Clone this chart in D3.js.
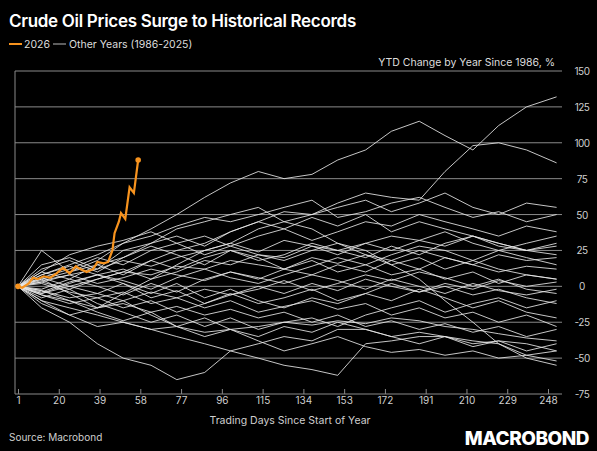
<!DOCTYPE html>
<html><head><meta charset="utf-8">
<script src="https://cdn.jsdelivr.net/npm/d3@7"></script>
<style>body{margin:0;background:#000;font-family:Inter,"Noto Sans",sans-serif;}</style>
</head><body>
<script>
// sample days for historical years
const days = [1,12,25,38,50,63,75,88,100,113,125,138,150,163,175,188,200,213,225,238,252];
const otherYears = [
  [0,8,15,22,30,40,50,62,72,80,75,78,88,95,108,115,105,95,112,125,132],
  [0,-5,0,5,10,18,25,30,38,45,52,50,58,65,62,60,80,98,100,95,86],
  [0,-10,-20,-15,-5,5,15,25,30,40,45,50,55,60,52,58,65,55,50,58,55],
  [0,-15,-25,-40,-50,-55,-65,-60,-45,-40,-35,-38,-30,-30,-35,-32,-35,-40,-38,-40,-45],
  [0,-10,-15,-20,-25,-30,-35,-40,-45,-50,-55,-58,-62,-40,-38,-35,-35,-38,-40,-48,-52],
  [0,5,10,15,20,30,40,45,50,55,45,40,30,25,15,5,-10,-25,-40,-50,-55],
  [0,25,10,18,30,35,42,48,45,50,55,60,48,52,58,62,55,48,52,45,50],
  [0,6,12,20,15,25,30,22,28,35,40,32,38,45,42,50,45,40,35,42,38],
  [0,-4,3,8,12,5,10,18,15,22,20,28,25,30,35,32,28,35,30,25,28],
  [0,3,-2,5,10,8,14,12,18,15,12,20,16,22,18,25,20,15,22,18,20],
  [0,-3,-8,-5,-10,-4,-8,-2,-6,0,-5,2,-3,5,0,-4,2,-2,4,0,3],
  [0,4,8,2,6,12,8,4,10,6,2,8,4,-2,5,0,-5,2,-3,-6,-2],
  [0,-6,-10,-15,-12,-18,-14,-20,-16,-22,-18,-25,-20,-28,-24,-30,-26,-32,-28,-35,-30],
  [0,2,-4,-8,-4,-12,-8,-15,-10,-18,-14,-10,-16,-12,-20,-15,-22,-18,-25,-20,-28],
  [0,10,5,15,8,18,12,20,25,18,22,30,25,20,28,22,30,35,28,25,30],
  [0,-8,-2,-12,-18,-25,-20,-28,-22,-30,-25,-22,-28,-20,-15,-10,-18,-12,-8,-15,-10],
  [0,12,18,10,20,28,22,15,25,20,12,18,10,15,8,12,5,10,2,8,5],
  [0,-2,5,0,-6,2,-4,5,10,5,12,8,15,10,18,12,20,15,10,14,12],
  [0,5,-5,-15,-10,-20,-28,-22,-30,-35,-28,-32,-25,-30,-35,-40,-35,-42,-38,-45,-40],
  [0,8,14,8,2,-5,2,-8,-2,-10,-15,-8,-12,-5,-10,-2,-8,-15,-10,-18,-22],
  [0,-12,-20,-28,-25,-30,-28,-32,-30,-28,-25,-27,-24,-26,-22,-24,-28,-30,-33,-36,-38],
  [0,15,20,12,25,30,35,28,38,45,40,48,42,50,38,45,40,35,30,25,22],
  [0,-5,2,8,4,-2,6,12,6,2,8,14,20,15,22,28,25,18,12,8,5],
  [0,3,8,12,18,14,20,25,30,24,32,28,22,30,25,32,38,30,25,20,15],
  [0,-6,-12,-8,-15,-10,-18,-12,-5,-12,-8,-2,-10,-5,2,-4,0,-6,-2,-8,-12],
  [0,6,0,-5,2,-8,-3,-12,-6,-2,4,-3,2,8,4,10,6,0,5,-2,-5],
  [0,10,22,28,32,38,30,35,28,22,18,25,30,22,15,20,12,18,25,30,35],
  [0,-3,-10,-18,-24,-18,-28,-35,-30,-38,-45,-40,-35,-42,-46,-44,-48,-45,-50,-48,-45]
];
const days2026 = [1,3,6,8,10,13,16,19,22,25,28,30,33,36,38,41,43,45,46,48,49,51,53,55,57];
const values2026 = [0,-1,2,6,5,7,6,9,13,9,14,12,10,12,17,16,17,25,37,45,51,47,69,65,88];
const xTicks = [1,20,39,58,77,96,115,134,153,172,191,210,229,248];
const yTicks = [-75,-50,-25,0,25,50,75,100,125,150];

const W = 597, H = 451;
const svg = d3.select('body').append('svg').attr('width', W).attr('height', H)
  .style('background', '#000');

const x = d3.scaleLinear().domain([1, 248]).range([18, 548]);
const y = d3.scaleLinear().domain([-75, 150]).range([394, 71]);

// grid
svg.append('g').selectAll('line').data(yTicks).enter().append('line')
  .attr('x1', 15).attr('x2', 562).attr('y1', d => y(d)).attr('y2', d => y(d))
  .attr('stroke', '#8a8a8a').attr('stroke-width', 1);
svg.append('line').attr('x1', 15).attr('x2', 15).attr('y1', y(150)).attr('y2', y(-75))
  .attr('stroke', '#8a8a8a');

svg.append('g').selectAll('text').data(yTicks).enter().append('text')
  .attr('x', 582).attr('y', d => y(d) + 4).attr('text-anchor', 'middle')
  .attr('fill', '#cfcfcf').attr('font-size', 10).attr('letter-spacing', -0.5)
  .text(d => d);

const xAxis = svg.append('g').attr('transform', `translate(0,${y(-75)})`)
  .call(d3.axisBottom(x).tickValues(xTicks).tickSize(5).tickSizeOuter(0));
xAxis.select('.domain').remove();
xAxis.selectAll('line').attr('stroke', '#8a8a8a').attr('transform', 'translate(0,-5)');
xAxis.selectAll('text').attr('fill', '#cfcfcf').attr('font-size', 10).attr('dy', '0.2em')
  .attr('font-family', 'Inter,"Noto Sans",sans-serif');

const line = d3.line().x(d => x(d[0])).y(d => y(d[1])).curve(d3.curveLinear);
svg.append('g').selectAll('path').data(otherYears).enter().append('path')
  .attr('d', v => line(v.map((val, i) => [days[i], val])))
  .attr('fill', 'none').attr('stroke', '#e8e8e8').attr('stroke-opacity', 0.85).attr('stroke-width', 1);

const orange = days2026.map((d, i) => [d, values2026[i]]);
svg.append('path').attr('d', line(orange)).attr('fill', 'none')
  .attr('stroke', '#f7931e').attr('stroke-width', 2.2);
svg.selectAll('.dot').data([orange[0], orange[orange.length - 1]]).enter().append('circle')
  .attr('cx', d => x(d[0])).attr('cy', d => y(d[1])).attr('r', 2.8).attr('fill', '#f7931e');

// texts
svg.append('text').attr('x', 9).attr('y', 27).attr('fill', '#fff').attr('font-size', 17)
  .attr('font-weight', 600).attr('letter-spacing', -0.3).text('Crude Oil Prices Surge to Historical Records');
svg.append('line').attr('x1', 9).attr('x2', 22).attr('y1', 44).attr('y2', 44).attr('stroke', '#f7931e').attr('stroke-width', 2);
svg.append('text').attr('x', 24).attr('y', 48).attr('fill', '#ddd').attr('font-size', 10.5).text('2026');
svg.append('line').attr('x1', 53).attr('x2', 66).attr('y1', 44).attr('y2', 44).attr('stroke', '#bbb').attr('stroke-width', 1);
svg.append('text').attr('x', 69).attr('y', 48).attr('fill', '#ddd').attr('font-size', 10.5).text('Other Years (1986-2025)');
svg.append('text').attr('x', 555).attr('y', 66).attr('text-anchor', 'end').attr('fill', '#ddd')
  .attr('font-size', 10.5).text('YTD Change by Year Since 1986, %');
svg.append('text').attr('x', 290).attr('y', 424).attr('text-anchor', 'middle').attr('fill', '#cfcfcf')
  .attr('font-size', 10.5).text('Trading Days Since Start of Year');
svg.append('text').attr('x', 9).attr('y', 441).attr('fill', '#cfcfcf').attr('font-size', 10).text('Source: Macrobond');
svg.append('text').attr('x', 589).attr('y', 445).attr('text-anchor', 'end').attr('fill', '#fff')
  .attr('font-size', 19).attr('font-weight', 800).attr('letter-spacing', -0.5).text('MACROBOND');
</script>
</body></html>
